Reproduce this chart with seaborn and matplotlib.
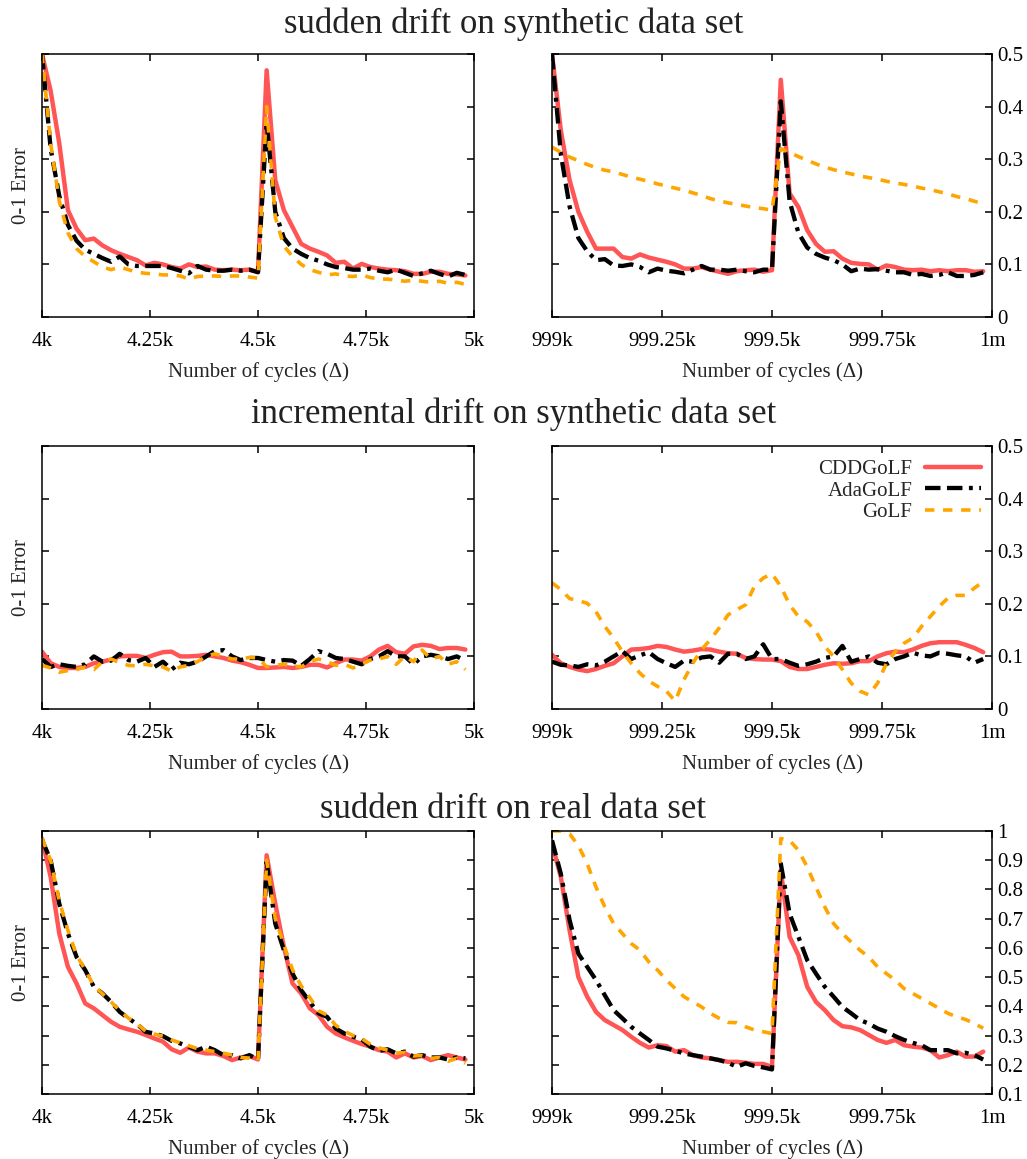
import numpy as np
import pandas as pd
import matplotlib
matplotlib.use("Agg")
import matplotlib.pyplot as plt
import seaborn as sns

# ---- sampling positions (every 20 cycles) ----
x_left = np.arange(4000, 5000, 20)
x_right = np.arange(999000, 1000000, 20)

left_ticks = [4000, 4250, 4500, 4750, 5000]
left_ticklabels = ["4k", "4.25k", "4.5k", "4.75k", "5k"]
right_ticks = [999000, 999250, 999500, 999750, 1000000]
right_ticklabels = ["999k", "999.25k", "999.5k", "999.75k", "1m"]

methods = ["CDDGoLF", "AdaGoLF", "GoLF"]
row_titles = [
    "sudden drift on synthetic data set",
    "incremental drift on synthetic data set",
    "sudden drift on real data set",
]

# ---- row 1: sudden drift, synthetic ----
sud_syn_left_cdd = [0.50, 0.43, 0.33, 0.203, 0.168, 0.146, 0.149, 0.136, 0.127, 0.120,
                    0.114, 0.108, 0.098, 0.103, 0.100, 0.095, 0.092, 0.100, 0.095, 0.096,
                    0.090, 0.089, 0.090, 0.089, 0.090, 0.086, 0.469, 0.260, 0.203, 0.171,
                    0.139, 0.130, 0.124, 0.117, 0.103, 0.105, 0.092, 0.101, 0.095, 0.092,
                    0.090, 0.089, 0.087, 0.082, 0.082, 0.086, 0.086, 0.082, 0.081, 0.079]
sud_syn_left_ada = [0.50, 0.32, 0.23, 0.175, 0.145, 0.128, 0.120, 0.112, 0.105, 0.115,
                    0.100, 0.097, 0.097, 0.097, 0.097, 0.093, 0.088, 0.083, 0.097, 0.090,
                    0.088, 0.088, 0.090, 0.088, 0.090, 0.085, 0.370, 0.200, 0.150, 0.130,
                    0.120, 0.112, 0.107, 0.100, 0.095, 0.093, 0.090, 0.090, 0.092, 0.088,
                    0.085, 0.090, 0.084, 0.078, 0.083, 0.088, 0.082, 0.077, 0.084, 0.080]
sud_syn_left_golf = [0.50, 0.33, 0.22, 0.160, 0.130, 0.115, 0.105, 0.095, 0.090, 0.095,
                     0.090, 0.085, 0.083, 0.082, 0.080, 0.080, 0.078, 0.072, 0.077, 0.078,
                     0.078, 0.077, 0.078, 0.078, 0.076, 0.074, 0.400, 0.190, 0.135, 0.115,
                     0.100, 0.090, 0.085, 0.080, 0.082, 0.078, 0.077, 0.080, 0.075, 0.072,
                     0.072, 0.070, 0.068, 0.070, 0.068, 0.066, 0.068, 0.064, 0.066, 0.062]

sud_syn_right_cdd = [0.50, 0.355, 0.26, 0.20, 0.162, 0.130, 0.130, 0.130, 0.114, 0.111,
                     0.119, 0.113, 0.109, 0.105, 0.100, 0.092, 0.092, 0.095, 0.090, 0.086,
                     0.082, 0.087, 0.089, 0.090, 0.086, 0.089, 0.451, 0.235, 0.209, 0.165,
                     0.139, 0.124, 0.125, 0.111, 0.103, 0.101, 0.100, 0.090, 0.098, 0.095,
                     0.090, 0.089, 0.090, 0.087, 0.089, 0.087, 0.089, 0.089, 0.086, 0.087]
sud_syn_right_ada = [0.50, 0.31, 0.21, 0.150, 0.125, 0.108, 0.110, 0.098, 0.097, 0.100,
                     0.095, 0.085, 0.092, 0.088, 0.086, 0.083, 0.090, 0.097, 0.090, 0.090,
                     0.088, 0.090, 0.087, 0.085, 0.090, 0.090, 0.410, 0.220, 0.160, 0.132,
                     0.120, 0.113, 0.108, 0.100, 0.087, 0.092, 0.090, 0.091, 0.088, 0.085,
                     0.085, 0.080, 0.082, 0.078, 0.080, 0.085, 0.078, 0.078, 0.080, 0.085]
sud_syn_right_golf = [0.323, 0.313, 0.304, 0.297, 0.290, 0.284, 0.279, 0.276, 0.271, 0.266,
                      0.262, 0.258, 0.253, 0.249, 0.245, 0.241, 0.236, 0.231, 0.225, 0.221,
                      0.217, 0.214, 0.211, 0.208, 0.206, 0.203, 0.320, 0.313, 0.305, 0.298,
                      0.291, 0.285, 0.280, 0.276, 0.272, 0.268, 0.265, 0.262, 0.258, 0.255,
                      0.252, 0.249, 0.245, 0.242, 0.238, 0.234, 0.229, 0.225, 0.220, 0.215]

# ---- row 2: incremental drift, synthetic ----
inc_syn_left_cdd = [0.109, 0.087, 0.080, 0.078, 0.078, 0.080, 0.087, 0.090, 0.094, 0.100,
                    0.101, 0.101, 0.097, 0.103, 0.108, 0.109, 0.100, 0.100, 0.101, 0.103,
                    0.100, 0.097, 0.092, 0.089, 0.084, 0.078, 0.078, 0.079, 0.080, 0.078,
                    0.080, 0.084, 0.084, 0.079, 0.087, 0.094, 0.094, 0.092, 0.100, 0.113,
                    0.120, 0.108, 0.105, 0.119, 0.122, 0.120, 0.114, 0.116, 0.116, 0.113]
inc_syn_left_ada = [0.095, 0.080, 0.085, 0.082, 0.080, 0.085, 0.100, 0.090, 0.092, 0.105,
                    0.093, 0.090, 0.097, 0.080, 0.090, 0.075, 0.088, 0.085, 0.090, 0.100,
                    0.110, 0.112, 0.100, 0.093, 0.097, 0.097, 0.093, 0.090, 0.093, 0.092,
                    0.082, 0.095, 0.110, 0.105, 0.097, 0.095, 0.090, 0.085, 0.095, 0.100,
                    0.110, 0.100, 0.100, 0.085, 0.100, 0.103, 0.100, 0.095, 0.100, 0.092]
inc_syn_left_golf = [0.083, 0.078, 0.070, 0.073, 0.075, 0.080, 0.075, 0.090, 0.095, 0.088,
                     0.083, 0.082, 0.085, 0.082, 0.080, 0.072, 0.080, 0.083, 0.090, 0.100,
                     0.105, 0.100, 0.095, 0.095, 0.098, 0.097, 0.080, 0.083, 0.085, 0.082,
                     0.080, 0.090, 0.095, 0.090, 0.083, 0.085, 0.078, 0.085, 0.093, 0.095,
                     0.100, 0.085, 0.100, 0.090, 0.112, 0.095, 0.100, 0.085, 0.090, 0.075]

inc_syn_right_cdd = [0.103, 0.087, 0.080, 0.075, 0.072, 0.076, 0.082, 0.087, 0.100, 0.113,
                     0.114, 0.116, 0.120, 0.118, 0.113, 0.109, 0.111, 0.114, 0.113, 0.109,
                     0.106, 0.105, 0.097, 0.095, 0.094, 0.094, 0.091, 0.080, 0.076, 0.076,
                     0.080, 0.084, 0.087, 0.086, 0.087, 0.091, 0.091, 0.100, 0.106, 0.109,
                     0.108, 0.113, 0.120, 0.125, 0.127, 0.127, 0.127, 0.122, 0.116, 0.108]
inc_syn_right_ada = [0.090, 0.084, 0.083, 0.080, 0.085, 0.083, 0.090, 0.100, 0.110, 0.095,
                     0.102, 0.108, 0.095, 0.087, 0.080, 0.092, 0.090, 0.098, 0.100, 0.088,
                     0.105, 0.105, 0.095, 0.100, 0.123, 0.095, 0.095, 0.088, 0.082, 0.085,
                     0.090, 0.097, 0.100, 0.120, 0.090, 0.095, 0.100, 0.088, 0.085, 0.095,
                     0.100, 0.107, 0.102, 0.100, 0.107, 0.105, 0.102, 0.100, 0.088, 0.095]
inc_syn_right_golf = [0.240, 0.227, 0.210, 0.206, 0.201, 0.185, 0.157, 0.135, 0.109, 0.087,
                      0.068, 0.053, 0.043, 0.034, 0.015, 0.056, 0.087, 0.113, 0.132, 0.154,
                      0.179, 0.189, 0.198, 0.233, 0.249, 0.257, 0.233, 0.198, 0.176, 0.166,
                      0.147, 0.119, 0.100, 0.075, 0.049, 0.034, 0.027, 0.049, 0.087, 0.109,
                      0.125, 0.135, 0.157, 0.176, 0.195, 0.211, 0.216, 0.216, 0.230, 0.242]

# ---- row 3: sudden drift, real ----
sud_real_left_cdd = [0.974, 0.843, 0.649, 0.535, 0.478, 0.410, 0.393, 0.370, 0.347, 0.330,
                     0.321, 0.313, 0.302, 0.290, 0.279, 0.253, 0.241, 0.259, 0.245, 0.239,
                     0.239, 0.230, 0.216, 0.225, 0.230, 0.218, 0.917, 0.751, 0.603, 0.478,
                     0.444, 0.393, 0.370, 0.330, 0.307, 0.294, 0.282, 0.271, 0.262, 0.250,
                     0.245, 0.225, 0.239, 0.225, 0.230, 0.216, 0.225, 0.233, 0.225, 0.218]
sud_real_left_ada = [0.970, 0.900, 0.751, 0.649, 0.569, 0.524, 0.467, 0.444, 0.415, 0.381,
                     0.359, 0.339, 0.313, 0.307, 0.298, 0.282, 0.273, 0.262, 0.250, 0.262,
                     0.250, 0.233, 0.233, 0.222, 0.233, 0.218, 0.894, 0.683, 0.592, 0.512,
                     0.455, 0.415, 0.376, 0.364, 0.324, 0.307, 0.296, 0.287, 0.262, 0.248,
                     0.253, 0.239, 0.245, 0.228, 0.233, 0.225, 0.225, 0.218, 0.225, 0.222]
sud_real_left_golf = [0.975, 0.900, 0.760, 0.660, 0.575, 0.525, 0.470, 0.443, 0.415, 0.385,
                      0.360, 0.340, 0.315, 0.305, 0.298, 0.285, 0.275, 0.265, 0.255, 0.250,
                      0.245, 0.240, 0.233, 0.225, 0.223, 0.215, 0.900, 0.700, 0.610, 0.525,
                      0.470, 0.430, 0.385, 0.370, 0.335, 0.315, 0.300, 0.290, 0.270, 0.258,
                      0.250, 0.240, 0.242, 0.230, 0.232, 0.222, 0.225, 0.212, 0.222, 0.205]

sud_real_right_cdd = [0.957, 0.843, 0.660, 0.500, 0.433, 0.381, 0.353, 0.336, 0.319, 0.296,
                      0.275, 0.259, 0.267, 0.264, 0.245, 0.250, 0.233, 0.225, 0.222, 0.216,
                      0.210, 0.210, 0.207, 0.203, 0.203, 0.193, 0.865, 0.638, 0.575, 0.467,
                      0.415, 0.387, 0.353, 0.332, 0.328, 0.319, 0.302, 0.285, 0.275, 0.285,
                      0.267, 0.262, 0.259, 0.250, 0.225, 0.233, 0.245, 0.228, 0.228, 0.245]
sud_real_right_ada = [0.968, 0.854, 0.695, 0.580, 0.535, 0.490, 0.438, 0.387, 0.359, 0.330,
                      0.307, 0.285, 0.262, 0.256, 0.248, 0.239, 0.233, 0.228, 0.222, 0.216,
                      0.207, 0.193, 0.205, 0.196, 0.191, 0.184, 0.888, 0.717, 0.638, 0.558,
                      0.512, 0.467, 0.433, 0.398, 0.376, 0.353, 0.341, 0.324, 0.313, 0.298,
                      0.285, 0.275, 0.267, 0.250, 0.250, 0.250, 0.239, 0.241, 0.233, 0.218]
sud_real_right_golf = [1.000, 1.000, 0.990, 0.950, 0.888, 0.808, 0.740, 0.683, 0.649, 0.615,
                       0.592, 0.552, 0.524, 0.490, 0.461, 0.433, 0.415, 0.398, 0.376, 0.359,
                       0.345, 0.344, 0.330, 0.319, 0.313, 0.307, 0.974, 0.968, 0.934, 0.877,
                       0.808, 0.740, 0.683, 0.649, 0.620, 0.592, 0.569, 0.535, 0.512, 0.490,
                       0.461, 0.444, 0.427, 0.410, 0.393, 0.376, 0.364, 0.355, 0.341, 0.325]

panels = [
    [(sud_syn_left_cdd, sud_syn_left_ada, sud_syn_left_golf),
     (sud_syn_right_cdd, sud_syn_right_ada, sud_syn_right_golf)],
    [(inc_syn_left_cdd, inc_syn_left_ada, inc_syn_left_golf),
     (inc_syn_right_cdd, inc_syn_right_ada, inc_syn_right_golf)],
    [(sud_real_left_cdd, sud_real_left_ada, sud_real_left_golf),
     (sud_real_right_cdd, sud_real_right_ada, sud_real_right_golf)],
]
y_ranges = [(0.0, 0.5), (0.0, 0.5), (0.1, 1.0)]
y_ticks = [
    [0, 0.1, 0.2, 0.3, 0.4, 0.5],
    [0, 0.1, 0.2, 0.3, 0.4, 0.5],
    [0.1, 0.2, 0.3, 0.4, 0.5, 0.6, 0.7, 0.8, 0.9, 1.0],
]
y_ticklabels = [
    ["0", "0.1", "0.2", "0.3", "0.4", "0.5"],
    ["0", "0.1", "0.2", "0.3", "0.4", "0.5"],
    ["0.1", "0.2", "0.3", "0.4", "0.5", "0.6", "0.7", "0.8", "0.9", "1"],
]

# ---- styling ----
sns.set_theme(style="ticks")
plt.rcParams["font.family"] = ["Liberation Serif", "DejaVu Serif"]
plt.rcParams["axes.linewidth"] = 1.1

line_styles = {
    "CDDGoLF": dict(color="#ff5555", linewidth=3.2, linestyle="-"),
    "AdaGoLF": dict(color="black", linewidth=3.1,
                    linestyle=(0, (3.6, 1.5, 3.6, 1.5, 0.9, 1.5))),
    "GoLF": dict(color="#ffa500", linewidth=2.6, linestyle=(0, (2.6, 2.4))),
}

W, H = 1027, 1159
fig = plt.figure(figsize=(W / 100, H / 100), dpi=100)

col_px = [(42, 432), (552, 440)]
row_px = [(54, 263), (446, 263), (831, 263)]
title_baseline_px = [33, 423, 818]

for r in range(3):
    top, h = row_px[r]
    for c in range(2):
        left, w = col_px[c]
        ax = fig.add_axes([left / W, 1 - (top + h) / H, w / W, h / H])
        xs = x_left if c == 0 else x_right
        for name, vals in zip(methods, panels[r][c]):
            df = pd.DataFrame({"cycles": xs, "error": vals})
            sns.lineplot(data=df, x="cycles", y="error", ax=ax, label=name,
                         legend=False, **line_styles[name])
        if c == 0:
            ax.set_xlim(4000, 5000)
            ax.set_xticks(left_ticks)
            ax.set_xticklabels(left_ticklabels)
        else:
            ax.set_xlim(999000, 1000000)
            ax.set_xticks(right_ticks)
            ax.set_xticklabels(right_ticklabels)
        ax.set_ylim(*y_ranges[r])
        ax.set_yticks(y_ticks[r])
        ax.set_yticklabels(y_ticklabels[r])
        ax.tick_params(axis="both", which="both", direction="in", length=5,
                       width=1.1, top=True, bottom=True, left=True, right=True,
                       labelsize=15, colors="black")
        ax.tick_params(axis="x", pad=11)
        ax.tick_params(axis="y", pad=4)
        if c == 0:
            ax.tick_params(axis="y", labelleft=False, labelright=False)
            ax.set_ylabel("0-1 Error", fontsize=15, labelpad=8)
        else:
            ax.tick_params(axis="y", labelleft=False, labelright=True)
            ax.set_ylabel("")
        ax.set_xlabel("Number of cycles (\u0394)", fontsize=15, labelpad=8)
        for s in ax.spines.values():
            s.set_color("black")
            s.set_linewidth(1.1)
        if r == 1 and c == 1:
            ax.legend(loc="upper right", bbox_to_anchor=(0.985, 0.965),
                      frameon=False, markerfirst=False, fontsize=15,
                      handlelength=2.7, handletextpad=0.6, labelspacing=0.1,
                      borderaxespad=0.0, borderpad=0.2)
    fig.text(0.5, 1 - title_baseline_px[r] / H, row_titles[r], ha="center",
             va="baseline", fontsize=25, color="#222222")

fig.savefig("out.png", dpi=100)
